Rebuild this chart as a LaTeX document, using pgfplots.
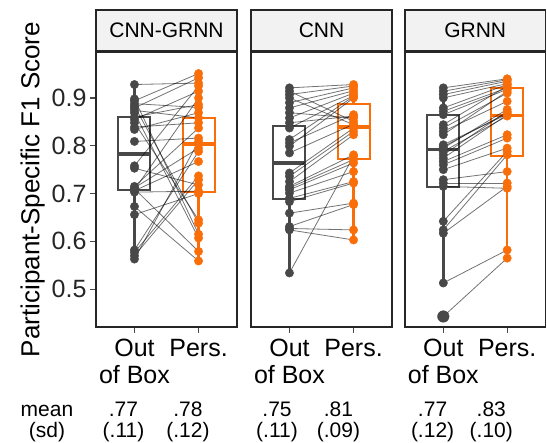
\documentclass[border=0pt]{standalone}
\usepackage{fontspec}
\setmainfont{Liberation Sans}
\usepackage{pgfplots}
\usepackage{pgfplotstable}
\pgfplotsset{compat=1.18}
\usepgfplotslibrary{statistics}

\definecolor{dk}{RGB}{72,72,72}
\definecolor{og}{RGB}{250,110,10}
\definecolor{stripbg}{RGB}{242,242,242}

% participant scores, out of box vs personalised
\pgfplotstableread{
out pers
0.928 0.931
0.898 0.615
0.894 0.951
0.888 0.880
0.883 0.638
0.879 0.942
0.874 0.858
0.869 0.607
0.860 0.886
0.855 0.914
0.848 0.645
0.839 0.848
0.834 0.869
0.809 0.816
0.758 0.925
0.753 0.718
0.715 0.837
0.712 0.795
0.710 0.579
0.708 0.900
0.706 0.767
0.703 0.705
0.673 0.559
0.656 0.700
0.582 0.788
0.577 0.737
0.570 0.729
0.563 0.809
}\cnngrnn

\pgfplotstableread{
out pers
0.921 0.928
0.914 0.851
0.907 0.925
0.900 0.844
0.890 0.921
0.879 0.915
0.869 0.858
0.858 0.910
0.848 0.862
0.837 0.905
0.813 0.903
0.806 0.865
0.799 0.900
0.785 0.845
0.743 0.837
0.736 0.830
0.725 0.823
0.715 0.781
0.712 0.771
0.708 0.764
0.701 0.746
0.690 0.725
0.683 0.722
0.659 0.680
0.631 0.677
0.627 0.624
0.624 0.603
0.534 0.778
}\cnn

\pgfplotstableread{
out pers
0.921 0.940
0.914 0.938
0.907 0.935
0.900 0.930
0.879 0.928
0.872 0.921
0.865 0.918
0.844 0.925
0.837 0.910
0.830 0.893
0.823 0.914
0.802 0.866
0.798 0.869
0.795 0.876
0.788 0.862
0.781 0.872
0.774 0.865
0.767 0.823
0.760 0.816
0.750 0.795
0.729 0.746
0.722 0.722
0.715 0.711
0.642 0.788
0.624 0.781
0.617 0.715
0.513 0.582
0.443 0.565
}\grnn

\pgfplotsset{
  panel/.style={
    scale only axis, width=141pt, height=275pt,
    xmin=0.4, xmax=2.6, ymin=0.421, ymax=0.996,
    xtick={1,2}, xticklabels={{Out\\of Box},{Pers.}},
    xticklabel style={align=center, font=\fontsize{25}{27}\selectfont, text=black, yshift=-3pt},
    ytick={0.5,0.6,0.7,0.8,0.9},
    yticklabel style={font=\fontsize{25}{27}\selectfont, text=black!85,
      /pgf/number format/.cd, fixed, fixed zerofill, precision=1},
    /pgf/number format/assume math mode=true,
    xtick pos=bottom, ytick pos=left,
    tick align=outside, major tick length=6pt,
    tick style={dk, line width=1.3pt},
    axis line style={line width=1.6pt, black!85},
    clip=false,
    every axis title shift=0pt,
    title style={at={(0.5,1)}, anchor=south, draw=black!85, line width=1.6pt,
      fill=stripbg, minimum width=141pt, minimum height=41pt, inner sep=0pt,
      font=\fontsize{21}{24}\selectfont},
  },
  pairline/.style={black, opacity=0.55, line width=0.8pt},
  boxdk/.style={dk, line width=2pt, solid},
  boxog/.style={og, line width=2pt, solid},
  boxplot/bx/.style={draw direction=y, box extend=0.5, whisker extend=0,
    every median/.style={line width=3.4pt},
    every whisker/.style={line width=2.6pt}},
}

\begin{document}
\begin{tikzpicture}
\path[use as bounding box] (0pt,0pt) rectangle (547pt,-443pt);

% ---------- CNN-GRNN
\begin{axis}[panel, at={(96pt,-52pt)}, anchor=north west, title={CNN-GRNN},
  ylabel={Participant-Specific F1 Score},
  ylabel style={font=\fontsize{26}{30}\selectfont}]
\addplot[boxdk, boxplot prepared={bx, draw position=1, lower whisker=0.563, lower quartile=0.708,
  median=0.783, upper quartile=0.861, upper whisker=0.928}] coordinates {};
\addplot[boxog, boxplot prepared={bx, draw position=2, lower whisker=0.559, lower quartile=0.703,
  median=0.804, upper quartile=0.857, upper whisker=0.951}] coordinates {};
\addplot[pairline, quiver={u=1, v=\thisrow{pers}-\thisrow{out}}] table[x expr=1, y=out] {\cnngrnn};
\addplot[only marks, mark=*, mark size=4.2pt, dk] table[x expr=1, y=out] {\cnngrnn};
\addplot[only marks, mark=*, mark size=4.2pt, og] table[x expr=2, y=pers] {\cnngrnn};
\node[anchor=base, font=\fontsize{21}{24}\selectfont] at (axis cs:-0.365,0.2332) {mean};
\node[anchor=base, font=\fontsize{21}{24}\selectfont] at (axis cs:-0.365,0.1907) {(sd)};
\node[anchor=base, font=\fontsize{21}{24}\selectfont] at (axis cs:0.829,0.2332) {.77};
\node[anchor=base, font=\fontsize{21}{24}\selectfont] at (axis cs:0.829,0.1907) {(.11)};
\node[anchor=base, font=\fontsize{21}{24}\selectfont] at (axis cs:1.835,0.2332) {.78};
\node[anchor=base, font=\fontsize{21}{24}\selectfont] at (axis cs:1.835,0.1907) {(.12)};
\end{axis}

% ---------- CNN
\begin{axis}[panel, at={(251pt,-52pt)}, anchor=north west, title={CNN}, ytick=\empty]
\addplot[boxdk, boxplot prepared={bx, draw position=1, lower whisker=0.534, lower quartile=0.688,
  median=0.764, upper quartile=0.842, upper whisker=0.921}] coordinates {};
\addplot[boxog, boxplot prepared={bx, draw position=2, lower whisker=0.603, lower quartile=0.773,
  median=0.839, upper quartile=0.888, upper whisker=0.928}] coordinates {};
\addplot[pairline, quiver={u=1, v=\thisrow{pers}-\thisrow{out}}] table[x expr=1, y=out] {\cnn};
\addplot[only marks, mark=*, mark size=4.2pt, dk] table[x expr=1, y=out] {\cnn};
\addplot[only marks, mark=*, mark size=4.2pt, og] table[x expr=2, y=pers] {\cnn};
\node[anchor=base, font=\fontsize{21}{24}\selectfont] at (axis cs:0.806,0.2332) {.75};
\node[anchor=base, font=\fontsize{21}{24}\selectfont] at (axis cs:0.806,0.1907) {(.11)};
\node[anchor=base, font=\fontsize{21}{24}\selectfont] at (axis cs:1.765,0.2332) {.81};
\node[anchor=base, font=\fontsize{21}{24}\selectfont] at (axis cs:1.765,0.1907) {(.09)};
\end{axis}

% ---------- GRNN
\begin{axis}[panel, at={(405pt,-52pt)}, anchor=north west, title={GRNN}, ytick=\empty,
  width=140.5pt, title style={minimum width=140.5pt}]
\addplot[boxdk, boxplot prepared={bx, draw position=1, lower whisker=0.513, lower quartile=0.714,
  median=0.792, upper quartile=0.864, upper whisker=0.921}] coordinates {};
\addplot[boxog, boxplot prepared={bx, draw position=2, lower whisker=0.565, lower quartile=0.778,
  median=0.863, upper quartile=0.921, upper whisker=0.940}] coordinates {};
\addplot[pairline, quiver={u=1, v=\thisrow{pers}-\thisrow{out}}] table[x expr=1, y=out] {\grnn};
\addplot[only marks, mark=*, mark size=4.2pt, dk] table[x expr=1, y=out] {\grnn};
\addplot[only marks, mark=*, mark size=4.2pt, og] table[x expr=2, y=pers] {\grnn};
\addplot[only marks, mark=*, mark size=5.8pt, dk] coordinates {(1,0.443)};
\node[anchor=base, font=\fontsize{21}{24}\selectfont] at (axis cs:0.832,0.2332) {.77};
\node[anchor=base, font=\fontsize{21}{24}\selectfont] at (axis cs:0.832,0.1907) {(.12)};
\node[anchor=base, font=\fontsize{21}{24}\selectfont] at (axis cs:1.751,0.2332) {.83};
\node[anchor=base, font=\fontsize{21}{24}\selectfont] at (axis cs:1.751,0.1907) {(.10)};
\end{axis}
\end{tikzpicture}
\end{document}
